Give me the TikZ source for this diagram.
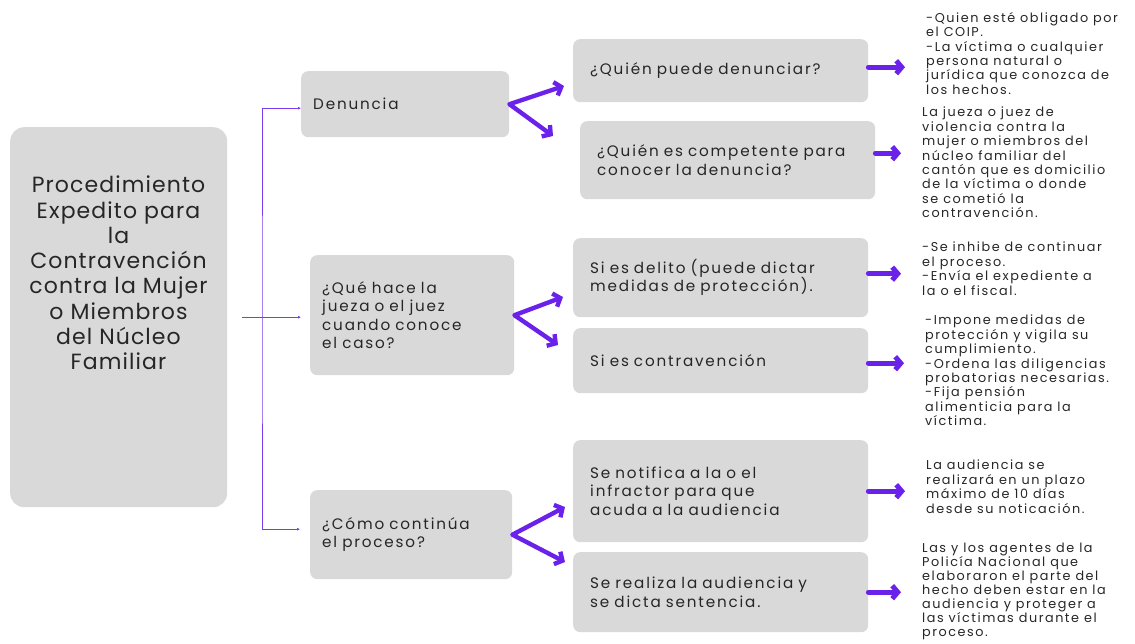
\documentclass[tikz,border=0pt]{standalone}
\usepackage{fontspec}
\setmainfont{Poppins}[LetterSpace=12]
\newfontfamily\titlefont{Poppins}[LetterSpace=5]
\usetikzlibrary{arrows.meta,positioning}
\definecolor{boxgray}{HTML}{D9D9D9}
\definecolor{arrowviolet}{HTML}{6A22EA}
\definecolor{linkviolet}{HTML}{7A3CF0}
\definecolor{inktext}{HTML}{262626}

\tikzset{
  box/.style={fill=boxgray, rounded corners=7pt, anchor=north west, align=left,
    text=inktext, font=\fontsize{15.2}{18.2}\selectfont},
  midbox/.style={box, inner xsep=12pt},
  qbox/.style={box, inner xsep=17pt, text width=261pt},
  note/.style={anchor=north west, align=left, inner sep=0pt, text=inktext,
    font=\fontsize{12.8}{14.4}\selectfont},
  link/.style={draw=linkviolet, line width=0.9pt},
  fork/.style={draw=arrowviolet, line width=4.4pt, line cap=round, line join=round,
    {Straight Barb[length=6pt,width=14pt]}-{Straight Barb[length=6pt,width=14pt]}},
  hand/.style={draw=arrowviolet, line width=5pt, line cap=round, shorten >=21pt,
    -{Straight Barb[length=5.5pt,width=13pt]}}
}

\begin{document}
\begin{tikzpicture}[x=1pt,y=1pt]
\useasboundingbox (0,0) rectangle (1135,-644);

\node[box, minimum width=217pt, minimum height=380pt, rounded corners=14pt] (main) at (10,-127) {};
\node[align=center, text=inktext, font=\titlefont\fontsize{22}{25.3}\selectfont] (title) at (118.5,-273)
  {Procedimiento\\Expedito para\\la\\Contravención\\contra la Mujer\\o Miembros\\del Núcleo\\Familiar};

\node[midbox, text width=184pt, minimum height=66pt] (den) at (301,-71) {Denuncia};
\node[midbox, text width=180pt, minimum height=120pt] (que) at (310,-255)
  {¿Qué hace la\\jueza o el juez\\cuando conoce\\el caso?};
\node[midbox, text width=178pt, minimum height=89pt] (como) at (310,-490)
  {¿Cómo continúa\\el proceso?};

\node[qbox, minimum height=63pt] (q1) at (573,-39) {¿Quién puede denunciar?};
\node[qbox, minimum height=78pt] (q2) at (580,-121) {¿Quién es competente para\\conocer la denuncia?};
\node[qbox, minimum height=79pt] (q3) at (573,-238) {Si es delito (puede dictar\\medidas de protección).};
\node[qbox, minimum height=65pt] (q4) at (573,-328) {Si es contravención};
\node[qbox, minimum height=102pt] (q5) at (573,-440) {Se notifica a la o el\\infractor para que\\acuda a la audiencia};
\node[qbox, minimum height=80pt] (q6) at (573,-552) {Se realiza la audiencia y\\se dicta sentencia.};

\node[note] (a1) at (926,-12) {-Quien esté obligado por\\el COIP.\\-La víctima o cualquier\\persona natural o\\jurídica que conozca de\\los hechos.};
\node[note] (a2) at (922,-107) {La jueza o juez de\\violencia contra la\\mujer o miembros del\\núcleo familiar del\\cantón que es domicilio\\de la víctima o donde\\se cometió la\\contravención.};
\node[note] (a3) at (922,-242) {-Se inhibe de continuar\\el proceso.\\-Envía el expediente a\\la o el fiscal.};
\node[note] (a4) at (925,-315) {-Impone medidas de\\protección y vigila su\\cumplimiento.\\-Ordena las diligencias\\probatorias necesarias.\\-Fija pensión\\alimenticia para la\\víctima.};
\node[note] (a5) at (926,-460) {La audiencia se\\realizará en un plazo\\máximo de 10 días\\desde su noticación.};
\node[note, font=\fontsize{12.8}{14}\selectfont] (a6) at (922,-543) {Las y los agentes de la\\Policía Nacional que\\elaboraron el parte del\\hecho deben estar en la\\audiencia y proteger a\\las víctimas durante el\\proceso.};

\draw[link, -{Latex[length=3pt,width=3pt]}] ([xshift=15pt]main.east) -- ([xshift=-9pt]main.east -| que.west);
\draw[link, {Latex[length=3pt,width=3pt]}-{Latex[length=3pt,width=3pt]}]
  ([yshift=-4pt]den.west) -| (262,-320) |- ([xshift=-10pt,yshift=5.5pt]como.west);

\coordinate (f1) at (564,-86);
\coordinate (f2) at (553,-136);
\coordinate (f3) at (563,-297);
\coordinate (f4) at (558,-345);
\coordinate (f5) at (565,-507);
\coordinate (f6) at (565,-562);
\draw[fork] (f1) -- (den.east) -- (f2);
\draw[fork] (f3) -- (que.east) -- (f4);
\draw[fork] (f5) -- (como.east) -- (f6);

\draw[hand] ([yshift=3.5pt]q1.east) -- ([yshift=3.5pt]q1.east -| a1.west);
\draw[hand] ([yshift=7pt]q2.east) -- ([yshift=7pt]q2.east -| a2.west);
\draw[hand] ([yshift=4pt]q3.east) -- ([yshift=4pt]q3.east -| a3.west);
\draw[hand] ([yshift=-2.5pt]q4.east) -- ([yshift=-2.5pt]q4.east -| a4.west);
\draw[hand] (q5.east) -- (q5.east -| a5.west);
\draw[hand] (q6.east) -- (q6.east -| a6.west);
\end{tikzpicture}
\end{document}
